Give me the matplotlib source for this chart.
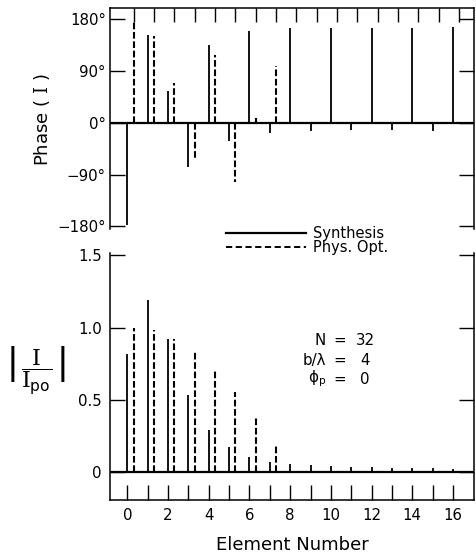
import numpy as np
import matplotlib
matplotlib.use('Agg')
import matplotlib.pyplot as plt
from matplotlib.lines import Line2D
from matplotlib.ticker import FixedLocator

plt.rcParams['font.family'] = ['DejaVu Sans']
plt.rcParams['mathtext.fontset'] = 'custom'
plt.rcParams['mathtext.rm'] = 'DejaVu Serif'
plt.rcParams['mathtext.sf'] = 'DejaVu Sans'
plt.rcParams['mathtext.it'] = 'DejaVu Serif:italic'

# ---------------- data ----------------
elements = list(range(17))
physopt_elements = list(range(8))
phase_synthesis = [-178, 152, 55, -76, 135, -32, 159, -17, 164, -15, 164, -13, 164, -12, 164, -15, 166]
phase_physopt = [178, 150, 69, -65, 117, -102, 8, 98]
amp_synthesis = [0.82, 1.19, 0.92, 0.53, 0.29, 0.17, 0.10, 0.07, 0.055, 0.046, 0.042,
                 0.032, 0.03, 0.028, 0.025, 0.025, 0.022]
amp_physopt = [1.0, 0.98, 0.92, 0.83, 0.70, 0.55, 0.38, 0.19]
phase_ticks = [-180, -90, 0, 90, 180]
phase_ticklabels = ['\u2212180\u00b0', '\u221290\u00b0', '0\u00b0', '90\u00b0', '180\u00b0']
amp_ticks = [0, 0.5, 1.0, 1.5]
amp_ticklabels = ['0', '0.5', '1.0', '1.5']
element_major = list(range(0, 17, 2))
element_minor = list(range(1, 17, 2))
element_ticklabels = [str(n) for n in element_major]
param_names = ['N', 'b/\u03bb', '$\\mathsf{\u03d5}_{\\mathsf{p}}$']
param_values = ['32', '4', '0']
legend_labels = ['Synthesis', 'Phys. Opt.']

W, H = 477, 557
offset = 0.3
dash = (0, (3.2, 1.3))

fig = plt.figure(figsize=(W / 100, H / 100), dpi=100)

def fx(px):
    return px / W

def fy(py):
    return 1 - py / H

# ---------------- top panel: phase ----------------
ax1 = fig.add_axes([fx(110), fy(228.5), fx(364), 220.5 / H])
ax1.vlines(elements, 0, phase_synthesis, colors='k', lw=1.3)
ax1.vlines(np.array(physopt_elements) + offset, 0, phase_physopt, colors='k', lw=1.5,
           linestyles=[dash])
ax1.axhline(0, color='k', lw=1.6)
ax1.set_xlim(-0.86, 17.04)
ax1.set_ylim(-183.5, 199)
ax1.spines['bottom'].set_visible(False)
for s in ['top', 'left', 'right']:
    ax1.spines[s].set_linewidth(1.1)
ax1.set_yticks(phase_ticks)
ax1.set_yticklabels(phase_ticklabels, fontsize=10.8)
ax1.tick_params(axis='y', direction='in', left=True, right=True, length=10.5, width=1.0, pad=3)
ax1.set_xticks(np.array(elements) + offset)
ax1.tick_params(axis='x', direction='in', bottom=False, top=True, labelbottom=False,
                labeltop=False, length=10, width=1.0)

fig.text(fx(42), fy(120), r'Phase ( $\mathrm{I}$ )', rotation=90, ha='center', va='center',
         fontsize=13)

# ---------------- bottom panel: amplitude ----------------
ax2 = fig.add_axes([fx(110), fy(500), fx(364), 247 / H])
ax2.vlines(elements, 0, amp_synthesis, colors='k', lw=1.3)
ax2.vlines(np.array(physopt_elements) + offset, 0, amp_physopt, colors='k', lw=1.5,
           linestyles=[dash])
ax2.axhline(0, color='k', lw=1.6)
ax2.set_xlim(-0.86, 17.04)
ax2.set_ylim(-0.196, 1.517)
ax2.spines['top'].set_visible(False)
for s in ['bottom', 'left', 'right']:
    ax2.spines[s].set_linewidth(1.1)
ax2.set_yticks(amp_ticks)
ax2.set_yticklabels(amp_ticklabels, fontsize=10.8)
ax2.tick_params(axis='y', direction='in', left=True, right=True, length=10.5, width=1.0, pad=6)
ax2.set_xticks(element_major)
ax2.set_xticklabels(element_ticklabels, fontsize=10.8)
ax2.xaxis.set_minor_locator(FixedLocator(element_minor))
ax2.tick_params(axis='x', which='both', direction='in', bottom=True, top=False,
                length=10.5, width=1.0, pad=6)
ax2.set_xlabel('Element Number', fontsize=13, labelpad=9)

# y label |I / I_po|
fig.text(fx(13), fy(364), '|', fontsize=27, ha='center', va='center', family='Liberation Sans')
fig.text(fx(63), fy(364), '|', fontsize=27, ha='center', va='center', family='Liberation Sans')
fig.text(fx(37), fy(372), r'$\dfrac{\mathrm{I}}{\mathrm{I}_{\mathsf{po}}}$', fontsize=16,
         ha='center', va='center')

# parameters annotation
rows_y = [340.7, 360.7, 379.3]
for name, val, yy in zip(param_names, param_values, rows_y):
    fig.text(fx(326), fy(yy), name, ha='right', va='center', fontsize=10.8)
    fig.text(fx(340), fy(yy), '=', ha='center', va='center', fontsize=10.8)
    fig.text(fx(365), fy(yy), val, ha='center', va='center', fontsize=10.8)

# legend
handles = [Line2D([], [], color='k', lw=1.6),
           Line2D([], [], color='k', lw=1.4, linestyle=(0, (3.2, 1.8)))]
fig.legend(handles, legend_labels, loc='center left', bbox_to_anchor=(fx(226), fy(240.5)),
           frameon=False, fontsize=10.5, handlelength=5.5, handletextpad=0.45,
           labelspacing=-0.05, borderpad=0, borderaxespad=0)

fig.savefig('out.png', dpi=100)
